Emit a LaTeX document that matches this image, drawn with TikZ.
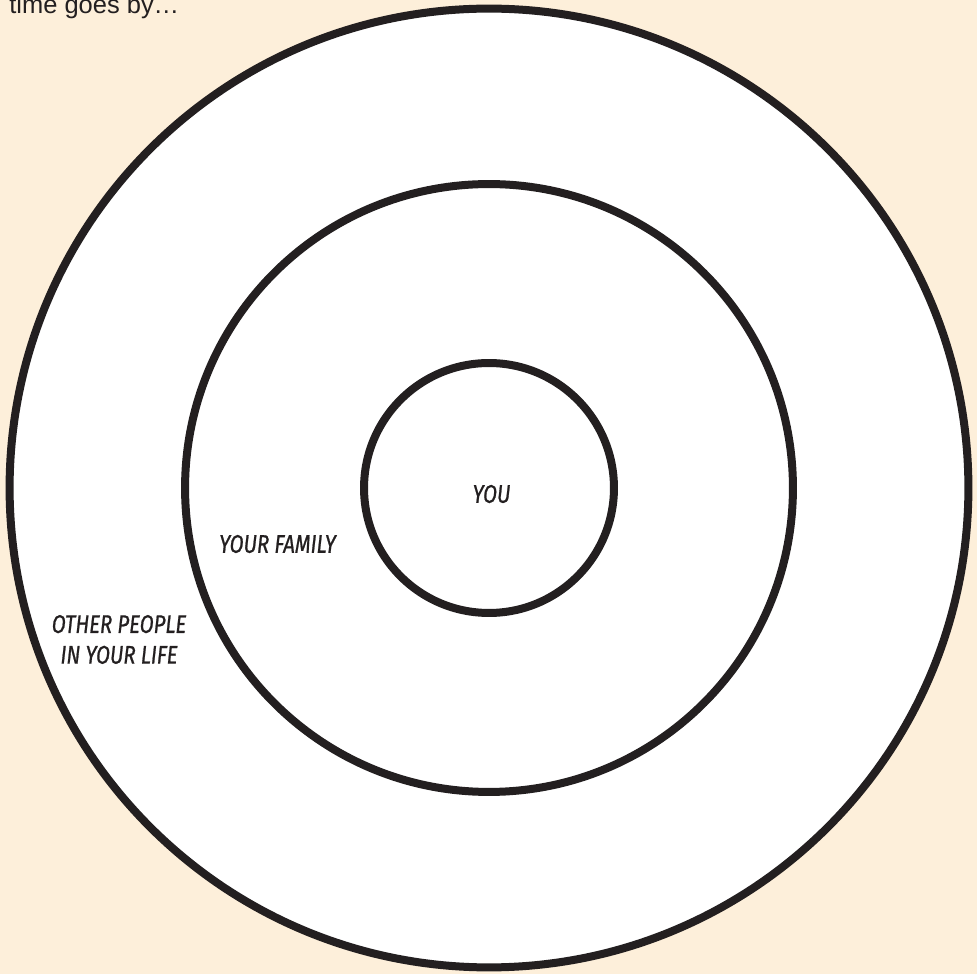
\documentclass[tikz,border=0pt]{standalone}
\usepackage{fontspec}
\setmainfont{Liberation Sans}
\newfontfamily\handfont[FakeStretch=0.8,FakeBold=0.8]{Fira Sans}
\definecolor{bgpeach}{RGB}{253,239,218}
\definecolor{inkline}{RGB}{35,31,32}
\begin{document}
\begin{tikzpicture}[x=0.02cm,y=0.02cm,
			ring/.style={circle,draw=inkline,fill=white,line width=0.16cm,inner sep=0},
			tag/.style={font=\handfont\itshape\fontsize{14.5}{17.5}\selectfont,text=inkline,inner sep=0,align=center}]
			\fill[bgpeach] (0,0) rectangle (977,974);
			\useasboundingbox (0,0) rectangle (977,974);
			\node[anchor=base west,inner sep=0,font=\fontsize{14.5}{17}\selectfont,text=inkline] (title) at (9,960) {time goes by\ldots};
			\node[ring,minimum size=19.18cm] (others) at (489,486) {};
			\node[ring,minimum size=12.16cm] (family) at (489,486) {};
			\node[ring,minimum size=5cm] (you) at (489,486) {};
			\node[tag] (youtxt) at (491.5,480) {YOU};
			\node[tag] (familytxt) at (277.5,430) {YOUR FAMILY};
			\node[tag] (otherstxt) at (119,334.5) {OTHER PEOPLE\\IN YOUR LIFE};
		\end{tikzpicture}
\end{document}
